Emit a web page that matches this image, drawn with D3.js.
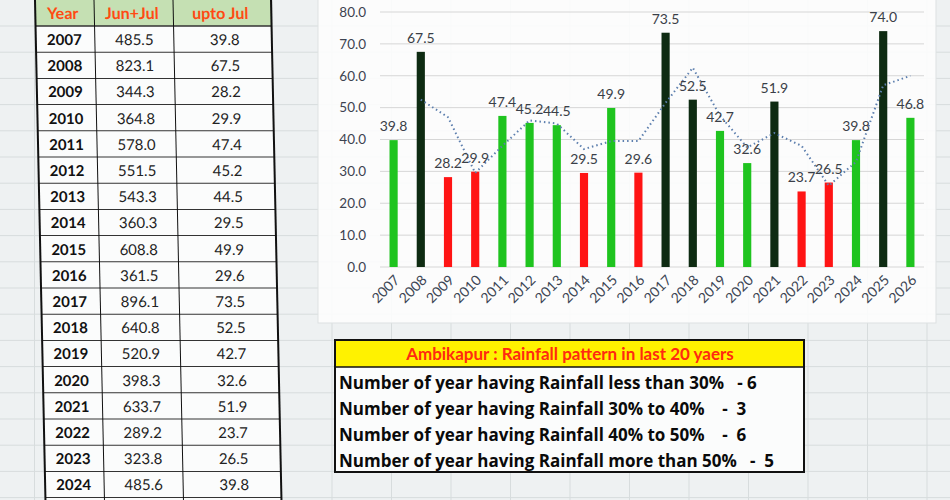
<!DOCTYPE html>
<html lang="en">
<head>
<meta charset="UTF-8">
<title>Ambikapur Rainfall</title>
<script src="https://d3js.org/d3.v7.min.js"></script>
<style>
  body { margin: 0; background: #eef1f2; }
  svg { display: block; font-family: Lato, "Open Sans", sans-serif; }
</style>
</head>
<body>
<svg id="chart" width="950" height="500"></svg>
<script>
// chart series (upto Jul, % of normal)
const years = ["2007","2008","2009","2010","2011","2012","2013","2014","2015","2016",
               "2017","2018","2019","2020","2021","2022","2023","2024","2025","2026"];
const uptoJul = [39.8, 67.5, 28.2, 29.9, 47.4, 45.2, 44.5, 29.5, 49.9, 29.6,
                 73.5, 52.5, 42.7, 32.6, 51.9, 23.7, 26.5, 39.8, 74.0, 46.8];
// dotted trend line
const trend = [null, 52.5, 47.0, 29.5, 38.0, 46.0, 45.0, 37.0, 39.5, 39.5,
               51.5, 62.5, 47.5, 37.5, 42.0, 38.0, 25.5, 33.0, 57.0, 60.0];
const yTicks = [0, 10, 20, 30, 40, 50, 60, 70, 80];

// table on the left
const tableHeader = ["Year", "Jun+Jul", "upto Jul"];
const tableYears = years.slice(0, 18);
const junJul = [485.5, 823.1, 344.3, 364.8, 578.0, 551.5, 543.3, 360.3, 608.8, 361.5,
                896.1, 640.8, 520.9, 398.3, 633.7, 289.2, 323.8, 485.6];
const tableUpto = uptoJul.slice(0, 18);

// summary box
const summaryTitle = "Ambikapur : Rainfall pattern in last 20 yaers";
const summaryRows = [
  "Number of year having Rainfall less than 30%   - 6",
  "Number of year having Rainfall 30% to 40%    -  3",
  "Number of year having Rainfall 40% to 50%    -  6",
  "Number of year having Rainfall more than 50%   -  5"
];

const svg = d3.select("#chart");

// spreadsheet cell grid in the background
const bg = svg.append("g");
bg.append("rect").attr("width", 950).attr("height", 500).attr("fill", "#eef1f2");
d3.range(-3, 16).forEach(i => {
  bg.append("line").attr("x1", 808 - i * 59.5).attr("x2", 808 - i * 59.5)
    .attr("y1", 0).attr("y2", 500).attr("stroke", "#d7dcdd");
});
d3.range(0, 20).forEach(i => {
  bg.append("line").attr("x1", 0).attr("x2", 950)
    .attr("y1", 26 + i * 26.2).attr("y2", 26 + i * 26.2).attr("stroke", "#d7dcdd");
});

// ---- table ----
const cols = [35, 94, 173, 271];
const rowH = 26.2;
const table = svg.append("g").attr("transform", "skewX(1.2)");

table.append("rect").attr("x", cols[0]).attr("y", -2)
  .attr("width", cols[3] - cols[0]).attr("height", 28).attr("fill", "#c5e0b3");
table.append("rect").attr("x", cols[0]).attr("y", 26)
  .attr("width", cols[3] - cols[0]).attr("height", rowH * 19).attr("fill", "#fbfcfc");

tableHeader.forEach((h, i) => {
  table.append("text")
    .attr("x", (cols[i] + cols[i + 1]) / 2 - 2).attr("y", 19)
    .attr("text-anchor", "middle").attr("font-size", 16).attr("font-weight", "bold")
    .attr("fill", "#ff4a12").text(h);
});

const rows = table.selectAll(".row").data(tableYears).enter().append("g")
  .attr("class", "row")
  .attr("transform", (d, i) => `translate(0,${26 + i * rowH})`);

rows.append("text").attr("x", (cols[0] + cols[1]) / 2 - 1).attr("y", 19)
  .attr("text-anchor", "middle").attr("font-size", 15).attr("font-weight", "bold")
  .attr("fill", "#111").text(d => d);
rows.append("text").attr("x", (cols[1] + cols[2]) / 2).attr("y", 19)
  .attr("text-anchor", "middle").attr("font-size", 15).attr("fill", "#222")
  .text((d, i) => junJul[i].toFixed(1));
rows.append("text").attr("x", (cols[2] + cols[3]) / 2 + 2).attr("y", 19)
  .attr("text-anchor", "middle").attr("font-size", 15).attr("fill", "#222")
  .text((d, i) => tableUpto[i].toFixed(1));

// table lines
d3.range(0, 20).forEach(i => {
  table.append("line").attr("x1", cols[0]).attr("x2", cols[3])
    .attr("y1", 26 + i * rowH).attr("y2", 26 + i * rowH)
    .attr("stroke", "#333").attr("stroke-width", i === 0 ? 1.5 : 1);
});
cols.forEach((c, i) => {
  table.append("line").attr("x1", c).attr("x2", c).attr("y1", -2).attr("y2", 510)
    .attr("stroke", "#111").attr("stroke-width", (i === 0 || i === 3) ? 2 : 1);
});

// ---- bar chart ----
svg.append("rect").attr("x", 318).attr("y", -5).attr("width", 618).attr("height", 328)
  .attr("fill", "#fdfdfd").attr("fill-opacity", 0.9).attr("stroke", "#dde1e2");

const x = d3.scaleBand().domain(years).range([380, 924]).paddingInner(0.7).paddingOuter(0.35);
const y = d3.scaleLinear().domain([0, 80]).range([267, 12]);

const color = v => v < 30 ? "#ff1414" : (v <= 50 ? "#1fc41f" : "#0e2b12");

svg.append("g").selectAll("line").data(yTicks).enter().append("line")
  .attr("x1", 380).attr("x2", 924)
  .attr("y1", d => y(d)).attr("y2", d => y(d))
  .attr("stroke", "#d6d6d6");

const yAxis = svg.append("g").attr("transform", "translate(370,0)")
  .call(d3.axisLeft(y).tickValues(yTicks).tickFormat(d3.format(".1f")).tickSize(0));
yAxis.select(".domain").remove();
yAxis.selectAll("text").attr("font-size", 13.5).attr("fill", "#3c4350")
  .attr("font-family", "Lato, sans-serif").attr("x", -4);

const xAxis = svg.append("g").attr("transform", "translate(0,267)")
  .call(d3.axisBottom(x).tickSize(0));
xAxis.select(".domain").remove();
xAxis.selectAll("text")
  .attr("font-size", 14).attr("fill", "#3c4654").attr("font-family", "Lato, sans-serif")
  .attr("text-anchor", "end").attr("dy", 0).attr("y", 0)
  .attr("transform", "translate(7,14) rotate(-45)");

svg.append("g").selectAll("rect").data(years).enter().append("rect")
  .attr("x", d => x(d)).attr("width", x.bandwidth())
  .attr("y", (d, i) => y(uptoJul[i]))
  .attr("height", (d, i) => y(0) - y(uptoJul[i]))
  .attr("fill", (d, i) => color(uptoJul[i]));

const line = d3.line()
  .defined(d => d[1] !== null)
  .x(d => x(d[0]) + x.bandwidth() / 2)
  .y(d => y(d[1]));

svg.append("path")
  .datum(years.map((yr, i) => [yr, trend[i]]))
  .attr("d", line).attr("fill", "none")
  .attr("stroke", "#5d7fae").attr("stroke-width", 2).attr("stroke-dasharray", "1.5,3");

svg.append("g").selectAll("text").data(years).enter().append("text")
  .attr("x", d => x(d) + x.bandwidth() / 2)
  .attr("y", (d, i) => y(uptoJul[i]) - 9)
  .attr("text-anchor", "middle").attr("font-size", 14).attr("fill", "#3a3f48")
  .text((d, i) => uptoJul[i].toFixed(1));

// ---- summary box ----
const box = svg.append("g");
box.append("rect").attr("x", 335).attr("y", 340).attr("width", 469).attr("height", 132)
  .attr("fill", "#fbfcfc");
box.append("rect").attr("x", 335).attr("y", 340).attr("width", 469).attr("height", 27)
  .attr("fill", "#fff200");
box.append("line").attr("x1", 335).attr("x2", 804).attr("y1", 367).attr("y2", 367)
  .attr("stroke", "#111").attr("stroke-width", 1.5);
box.append("rect").attr("x", 335).attr("y", 340).attr("width", 469).attr("height", 132)
  .attr("fill", "none").attr("stroke", "#111").attr("stroke-width", 2);
box.append("text").attr("x", 570).attr("y", 360).attr("text-anchor", "middle")
  .attr("font-size", 17).attr("font-weight", "bold").attr("fill", "#ff2a10")
  .text(summaryTitle);
box.selectAll(".srow").data(summaryRows).enter().append("text")
  .attr("class", "srow")
  .attr("x", 339).attr("y", (d, i) => 389 + i * 26)
  .attr("font-family", "'Open Sans', sans-serif")
  .attr("font-size", 17).attr("font-weight", "bold").attr("fill", "#0a0a0a")
  .style("white-space", "pre")
  .text(d => d);
</script>
</body>
</html>
